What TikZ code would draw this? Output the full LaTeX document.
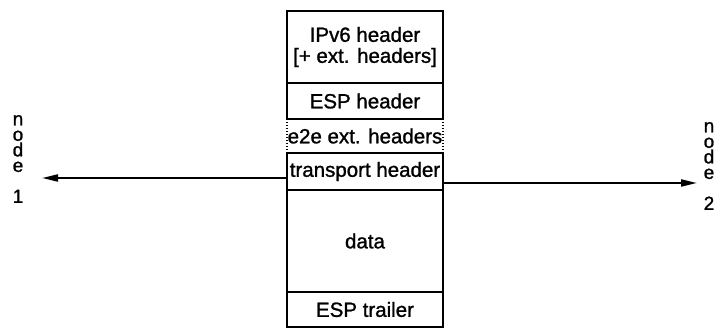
\documentclass[tikz,border=0pt]{standalone}
\usepackage{fontspec}
\setmainfont{Liberation Sans}[BoldFont={Liberation Sans},BoldFeatures={FakeBold=1.2}]
\usetikzlibrary{arrows.meta,positioning}

\begin{document}
\begin{tikzpicture}[x=1pt,y=-1pt,>={Triangle[length=16pt,width=7pt]},
  layer/.style={line width=2.2pt,minimum width=156pt,inner sep=0pt,outer sep=0pt,
    font=\fontsize{20.5}{21}\selectfont\bfseries,align=center},
  side/.style={font=\fontsize{19}{15.5}\selectfont\bfseries,align=center}]
\useasboundingbox (0,0) rectangle (724,331);
% packet stack
\node[layer,draw,minimum height=72pt,anchor=north] (ipv6) at (365,11) {IPv6 header\\{[}+ ext. headers{]}};
\node[layer,draw,minimum height=36pt,below=0pt of ipv6] (esph) {ESP header};
\node[layer,minimum height=34pt,below=0pt of esph] (e2e) {e2e ext. headers};
\node[layer,draw,minimum height=37pt,below=0pt of e2e] (tph) {transport header};
\node[layer,draw,minimum height=102pt,below=0pt of tph] (data) {data};
\node[layer,draw,minimum height=35pt,below=0pt of data] (esptr) {ESP trailer};
\draw[line width=2.2pt,dash pattern=on 1.5pt off 1.5pt] (e2e.north west)--(e2e.south west);
\draw[line width=2.2pt,dash pattern=on 1.5pt off 1.5pt] (e2e.north east)--(e2e.south east);
% end points
\node[side] (node1) at (18,159) {n\\o\\d\\e\\[15.5pt]1};
\begin{scope}
\clip (0,0) rectangle (716,331);
\node[side] (node2) at (709,166) {n\\o\\d\\e\\[15.5pt]2};
\end{scope}
\coordinate (tip1) at (42,178);
\coordinate (tip2) at (697,183);
\draw[->,line width=2pt] (tph.west |- tip1)--(tip1);
\draw[->,line width=2pt] (tph.east |- tip2)--(tip2);
\end{tikzpicture}
\end{document}
